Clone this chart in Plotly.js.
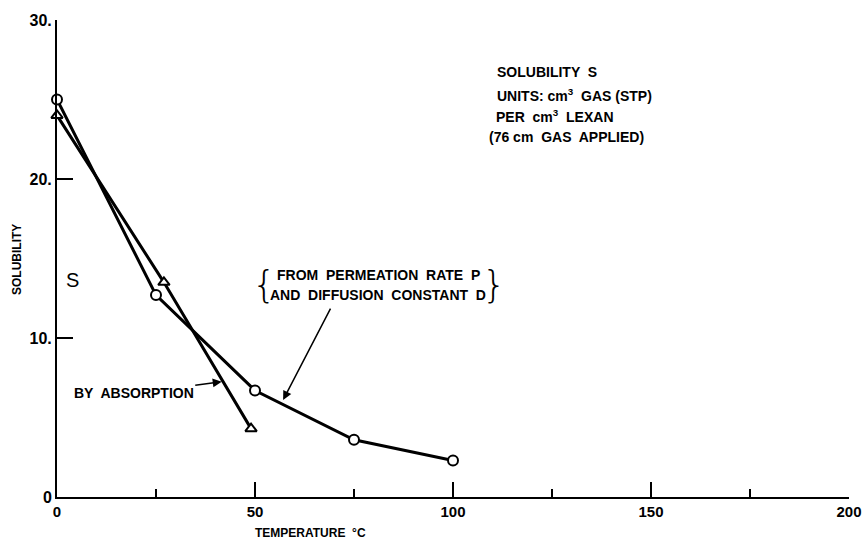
<!DOCTYPE html>
<html>
<head>
<meta charset="utf-8">
<script src="https://cdn.plot.ly/plotly-3.0.1.min.js"></script>
<style>html,body{margin:0;padding:0;background:#fff;}#chart{width:868px;height:543px;}</style>
</head>
<body>
<div id="chart"></div>
<script>
// Data
const permTemp = [0, 25, 50, 75, 100];          // from permeation rate P and diffusion constant D (circles)
const permSol  = [25.0, 12.7, 6.7, 3.6, 2.3];
const absTemp  = [0, 27, 49];                     // by absorption (triangles)
const absSol   = [24.0, 13.5, 4.3];
const xTickVals = [0, 50, 100, 150, 200];
const xTickText = ['0', '50', '100', '150', '200'];
const yTickVals = [0, 10, 20, 30];
const yTickText = ['0', '10.', '20.', '30.'];

const FONT = 'Liberation Sans, Arial, sans-serif';
const L = 57, R = 849, T = 20, B = 497;
const px = x => (x - L) / (R - L);
const py = y => (B - y) / (B - T);

const traces = [
  {x: absTemp, y: absSol, mode: 'lines+markers', cliponaxis: false,
   line: {color: '#000', width: 3},
   marker: {symbol: 'triangle-up', size: 10, color: '#fff', line: {color: '#000', width: 2}}},
  {x: permTemp, y: permSol, mode: 'lines+markers', cliponaxis: false,
   line: {color: '#000', width: 3},
   marker: {symbol: 'circle', size: 10, color: '#fff', line: {color: '#000', width: 2}}}
];

function txt(x, y, text, opts) {
  return Object.assign({xref: 'paper', yref: 'paper', x: px(x), y: py(y), text: text,
    showarrow: false, xanchor: 'left', yanchor: 'middle',
    font: {family: FONT, size: 14, color: '#000', weight: 'bold'}}, opts || {});
}

const annotations = [
  txt(495, 72, 'SOLUBILITY  S'),
  txt(495, 95, 'UNITS: cm<sup>3</sup>  GAS (STP)'),
  txt(494, 116, 'PER  cm<sup>3</sup>  LEXAN'),
  txt(487, 137, '(76 cm  GAS  APPLIED)'),
  txt(72, 280, 'S', {xanchor: 'center', font: {family: FONT, size: 20, color: '#000'}}),
  txt(378, 275, 'FROM  PERMEATION  RATE  P', {xanchor: 'center'}),
  txt(378, 295, 'AND  DIFFUSION  CONSTANT  D', {xanchor: 'center'}),
  txt(278, 284, '{', {xanchor: 'right', font: {family: 'DejaVu Sans, sans-serif', size: 38, color: '#000', weight: 300}}),
  txt(480, 284, '}', {xanchor: 'left', font: {family: 'DejaVu Sans, sans-serif', size: 38, color: '#000', weight: 300}}),
  txt(310, 533, 'TEMPERATURE  °C', {xanchor: 'center', font: {family: FONT, size: 12, color: '#000', weight: 'bold'}}),
  txt(17, 260, 'SOLUBILITY', {xanchor: 'center', textangle: -90, font: {family: FONT, size: 12, color: '#000', weight: 'bold'}}),
  // arrow annotations
  {xref: 'x', yref: 'y', x: 41.6, y: 7.25, text: 'BY  ABSORPTION', showarrow: true,
   ax: -88, ay: 11.5, arrowhead: 2, arrowsize: 1.2, arrowwidth: 1.5, arrowcolor: '#000', standoff: 0,
   font: {family: FONT, size: 14, color: '#000', weight: 'bold'}},
  {xref: 'x', yref: 'y', x: 57.1, y: 6.1, text: ' ', showarrow: true,
   ax: 48.4, ay: -93.3, arrowhead: 2, arrowsize: 1.2, arrowwidth: 1.5, arrowcolor: '#000', standoff: 0,
   font: {family: FONT, size: 1, color: '#000'}}
];

const layout = {
  width: 868, height: 543,
  margin: {l: L, r: 868 - R, t: T, b: 543 - B, pad: 0},
  paper_bgcolor: '#fff', plot_bgcolor: '#fff',
  showlegend: false,
  xaxis: {range: [0, 200], showgrid: false, zeroline: false, showline: true, linecolor: '#000', linewidth: 2,
    ticks: 'inside', ticklen: 15, tickwidth: 2, tickcolor: '#000',
    tickvals: xTickVals, ticktext: xTickText,
    tickfont: {family: FONT, size: 15, color: '#000', weight: 'bold'},
    minor: {tickvals: [25, 75, 125, 175], ticks: 'inside', ticklen: 8, tickwidth: 2, tickcolor: '#000', showgrid: false}},
  yaxis: {range: [0, 30], showgrid: false, zeroline: false, showline: true, linecolor: '#000', linewidth: 2,
    ticks: 'inside', ticklen: 16, tickwidth: 2, tickcolor: '#000',
    tickvals: yTickVals, ticktext: yTickText,
    tickfont: {family: FONT, size: 16, color: '#000', weight: 'bold'}},
  annotations: annotations
};

Plotly.newPlot('chart', traces, layout, {displayModeBar: false, staticPlot: true});
</script>
</body>
</html>
